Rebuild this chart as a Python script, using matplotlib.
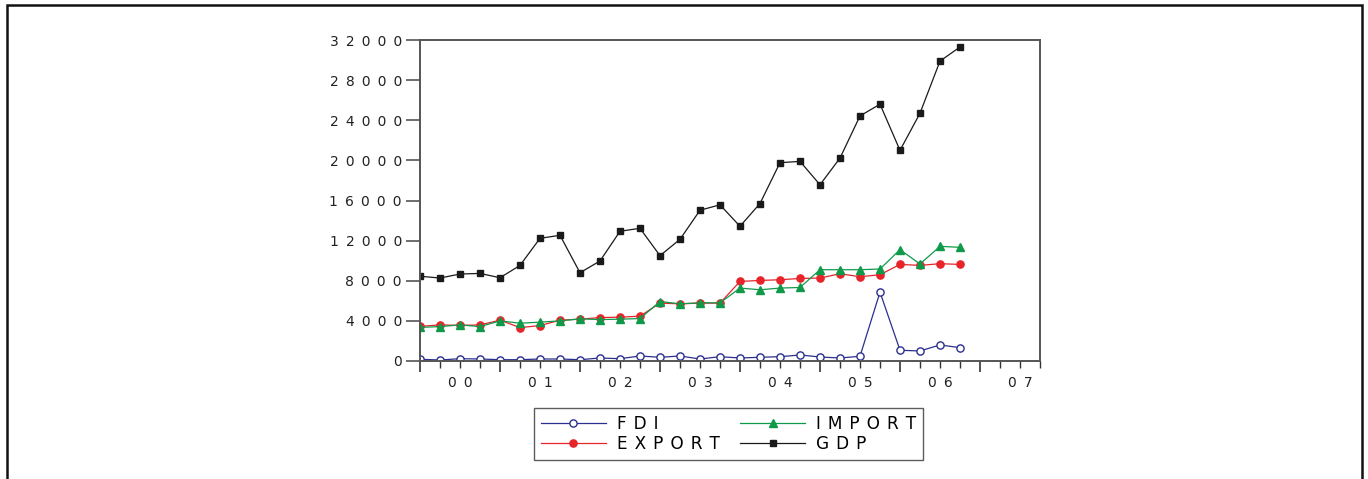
import numpy as np
import matplotlib
matplotlib.use("Agg")
import matplotlib.pyplot as plt
from matplotlib.patches import Rectangle
from matplotlib.ticker import FixedLocator, FuncFormatter

# quarterly data 2000Q1 - 2006Q4
quarters = list(range(28))

fdi = [170, 100, 230, 200, 130, 130, 200, 200, 130, 300, 230, 500, 370, 500,
       200, 430, 300, 370, 430, 600, 400, 300, 470, 6870, 1070, 1000, 1600, 1330]

export = [3450, 3600, 3550, 3600, 4070, 3330, 3530, 4070, 4170, 4330, 4370, 4470, 5770, 5700,
          5770, 5770, 7930, 8030, 8100, 8230, 8270, 8700, 8400, 8600, 9630, 9530, 9700, 9630]

imp = [3350, 3430, 3600, 3430, 4000, 3770, 3870, 4000, 4200, 4130, 4170, 4230, 5930, 5700,
       5800, 5800, 7270, 7100, 7270, 7330, 9100, 9100, 9100, 9170, 11100, 9670, 11430, 11330]

gdp = [8450, 8270, 8670, 8730, 8300, 9530, 12230, 12530, 8800, 9970, 12930, 13230, 10500, 12130,
       15030, 15570, 13430, 15700, 19770, 19900, 17570, 20230, 24430, 25600, 21000, 24700, 29900, 31300]

year_labels = ["00", "01", "02", "03", "04", "05", "06", "07"]
y_ticks = [0, 4000, 8000, 12000, 16000, 20000, 24000, 28000, 32000]


def spaced(s, gap=" \u2009"):
    # the original uses wide letter spacing
    return gap.join(s)


plt.rcParams['font.family'] = ['DejaVu Sans']

fig = plt.figure(figsize=(13.68, 4.79), dpi=100)
ax = fig.add_axes([420/1368, 1 - 361/479, 620/1368, 321/479])

leg_gap = " \u200a"
ax.plot(quarters, fdi, color="#2b2f8f", lw=0.9, marker="o", ms=5.2,
        mfc="white", mec="#2b2f8f", mew=1.0, label=spaced("FDI", leg_gap))
ax.plot(quarters, export, color="#e8242b", lw=0.9, marker="o", ms=5.2,
        mfc="#e8242b", mec="#e8242b", label=spaced("EXPORT", leg_gap))
ax.plot(quarters, imp, color="#0f9a4a", lw=0.9, marker="^", ms=6,
        mfc="#0f9a4a", mec="#0f9a4a", label=spaced("IMPORT", leg_gap))
ax.plot(quarters, gdp, color="#1a1a1a", lw=0.9, marker="s", ms=5,
        mfc="#1a1a1a", mec="#1a1a1a", label=spaced("GDP", leg_gap))

ax.set_xlim(0, 31)
ax.set_ylim(0, 32000)

ax.set_yticks(y_ticks)
ax.yaxis.set_major_formatter(FuncFormatter(lambda v, p: spaced(str(int(v)))))

ax.xaxis.set_major_locator(FixedLocator(list(range(0, 32, 4))))
ax.xaxis.set_minor_locator(FixedLocator([i for i in range(32) if i % 4 != 0]))
ax.set_xticklabels([])
for i, lab in enumerate(year_labels):
    ax.text(4*i + 2, -1500, spaced(lab), ha="center", va="top", fontsize=10,
            color="#222222")

for sp in ax.spines.values():
    sp.set_color("#555555")
    sp.set_linewidth(1.4)
ax.tick_params(axis="y", direction="out", length=10, width=1.2, color="#555555",
               labelsize=10, labelcolor="#222222", pad=3)
ax.tick_params(axis="x", which="major", direction="out", length=8, width=1.2, color="#333333")
ax.tick_params(axis="x", which="minor", direction="out", length=5, width=1.0, color="#333333")

leg = ax.legend(loc="center", bbox_to_anchor=(728.5/1368, 1 - 434/479),
                bbox_transform=fig.transFigure, ncol=2, fontsize=12.2,
                handlelength=3.85, handletextpad=0.65, columnspacing=1.2,
                labelspacing=0.12, borderpad=0.4, fancybox=False,
                frameon=True, edgecolor="#333333", borderaxespad=0)
leg.get_frame().set_linewidth(1.0)

# outer border
fig.patches.append(Rectangle((7/1368, -0.02), 1355/1368, 1 - 5/479 + 0.02,
                             transform=fig.transFigure, fill=False,
                             edgecolor="#111111", lw=1.8))

fig.savefig("out.png", dpi=100)
